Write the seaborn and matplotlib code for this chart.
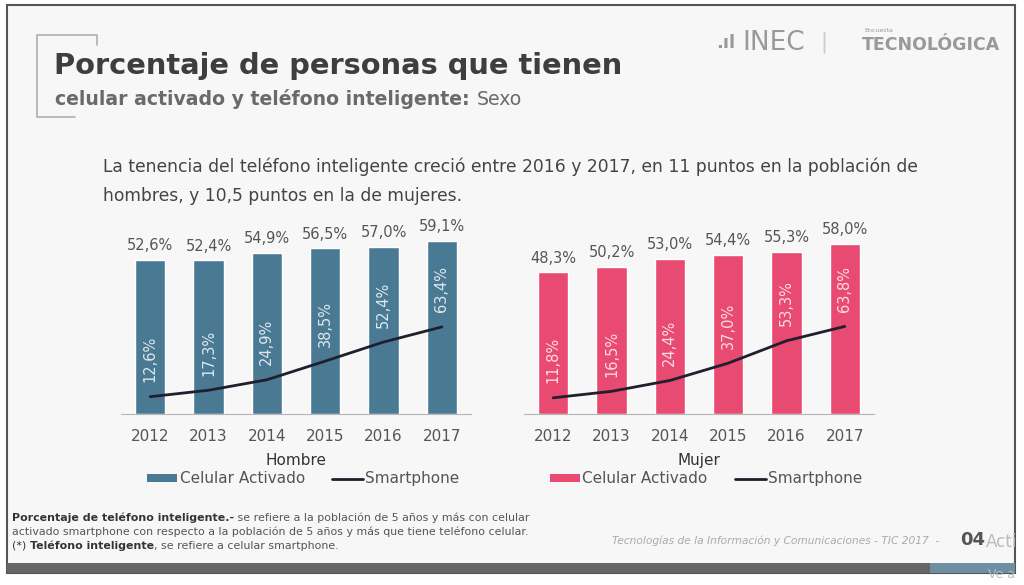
import numpy as np
import matplotlib
matplotlib.use("Agg")
import matplotlib.pyplot as plt
from matplotlib.patches import Rectangle, Patch
from matplotlib.lines import Line2D
import seaborn as sns

# Data
years = ["2012", "2013", "2014", "2015", "2016", "2017"]
hombre_celular = [52.6, 52.4, 54.9, 56.5, 57.0, 59.1]
hombre_smart = [12.6, 17.3, 24.9, 38.5, 52.4, 63.4]
mujer_celular = [48.3, 50.2, 53.0, 54.4, 55.3, 58.0]
mujer_smart = [11.8, 16.5, 24.4, 37.0, 53.3, 63.8]

BLUE = "#4a7a93"
PINK = "#e84a72"
LINE = "#1f1f2e"

sns.set_style("white")
plt.rcParams['font.family'] = ['DejaVu Sans']

fig = plt.figure(figsize=(10.24, 5.85), dpi=100)
W, H = 1024, 585
renderer = fig.canvas.get_renderer()


def fx(px):
    return px / W


def fy(py):
    return 1 - py / H


def seq_text(x_px, y_px, parts, size, stretch="normal"):
    # draw text pieces one after another on the same baseline
    for txt, weight, color, style in parts:
        t = fig.text(fx(x_px), fy(y_px), txt, fontsize=size, fontweight=weight,
                     color=color, style=style, va="center", fontstretch=stretch)
        bb = t.get_window_extent(renderer)
        x_px = bb.x1


# slide frame and background
fig.patches.append(Rectangle((fx(7), fy(573)), fx(1015 - 7), (573 - 5) / H,
                             transform=fig.transFigure, facecolor="#f7f7f7",
                             edgecolor="#555555", lw=1.5, zorder=-2))
fig.patches.append(Rectangle((fx(7), fy(573)), fx(1015 - 7), 10 / H,
                             transform=fig.transFigure, facecolor="#666666",
                             edgecolor="none", zorder=-1))
fig.patches.append(Rectangle((fx(930), fy(573)), fx(85), 10 / H,
                             transform=fig.transFigure, facecolor="#6d8fa3",
                             edgecolor="none", zorder=-1))

# bracket near title
fig.lines.append(Line2D([fx(97), fx(97), fx(37), fx(37), fx(75)],
                        [fy(45), fy(35), fy(35), fy(117), fy(117)],
                        transform=fig.transFigure, color="#b0b0b0", lw=1.2))

fig.text(fx(54), fy(66), "Porcentaje de personas que tienen", fontsize=20.8,
         fontweight="bold", color="#3e3e3e", va="center")
seq_text(55, 99, [("celular activado y teléfono inteligente: ", "bold", "#6a6a6a", "normal"),
                  ("Sexo", "normal", "#6a6a6a", "normal")], 13.6)

# logo text
fig.text(fx(716), fy(43), ".ıl", fontsize=13, color="#999999", va="center", fontweight="bold")
fig.text(fx(742), fy(43), "INEC", fontsize=19, color="#999999", va="center")
fig.text(fx(820), fy(42), "|", fontsize=15, color="#cccccc", va="center")
fig.text(fx(864), fy(30), "Encuesta", fontsize=4.5, color="#999999", va="center")
fig.text(fx(862), fy(45), "TECNOLÓGICA", fontsize=12.5, color="#999999",
         va="center", fontweight="bold")

fig.text(fx(103), fy(167),
         "La tenencia del teléfono inteligente creció entre 2016 y 2017, en 11 puntos en la población de",
         fontsize=12.3, color="#444444", va="center")
fig.text(fx(103), fy(196), "hombres, y 10,5 puntos en la de mujeres.",
         fontsize=12.3, color="#444444", va="center")


def panel(left_px, celular, smart, color, inner_color, title):
    ax = fig.add_axes([fx(left_px), fy(414), fx(350), 184 / H])
    ax.set_facecolor("none")
    sns.barplot(x=years, y=celular, color=color, width=0.52, saturation=1, ax=ax)
    ax.set_xlim(-0.5, len(years) - 0.5)
    ax.set_ylim(0, 62.8)
    ax.bar_label(ax.containers[0], labels=[f"{v:.1f}%".replace(".", ",") for v in celular],
                 padding=5, fontsize=10.5, color="#555555")
    for s in ["top", "right", "left"]:
        ax.spines[s].set_visible(False)
    ax.spines["bottom"].set_color("#b5b5b5")
    ax.set_yticks([])
    ax.set_xticks(np.arange(len(years) + 1) - 0.5, minor=True)
    ax.tick_params(axis="x", which="major", length=0, pad=11, labelsize=11,
                   labelcolor="#555555")
    ax.tick_params(axis="x", which="minor", length=3, color="#b5b5b5", direction="out")
    ax.set_xlabel(title, fontsize=11, color="#333333", labelpad=6)
    ax.set_ylabel("")

    ax2 = ax.twinx()
    xs = np.arange(len(years))
    sns.lineplot(x=xs, y=smart, color=LINE, lw=2, ax=ax2)
    ax2.set_ylim(0, 134)
    ax2.set_yticks([])
    ax2.set_ylabel("")
    for s in ax2.spines.values():
        s.set_visible(False)
    for x, v in zip(xs, smart):
        ax2.annotate(f"{v:.1f}%".replace(".", ","), (x, v), xytext=(0, 27),
                     textcoords="offset points", rotation=90, ha="center",
                     va="center", fontsize=10.5, color=inner_color)

    handles = [Patch(facecolor=color, edgecolor="none"),
               Line2D([0], [0], color=LINE, lw=2)]
    ax.legend(handles, ["Celular Activado", "Smartphone"], ncol=2, loc="center",
              bbox_to_anchor=(0.52, -0.353), frameon=False, fontsize=11,
              handlelength=2.0, handleheight=0.5, handletextpad=0.15,
              columnspacing=1.8, labelcolor="#555555")
    return ax


panel(121, hombre_celular, hombre_smart, BLUE, "#dde8ee", "Hombre")
panel(524, mujer_celular, mujer_smart, PINK, "#fcdbe3", "Mujer")

# footnotes
seq_text(12, 518, [("Porcentaje de teléfono inteligente.-", "bold", "#333333", "normal"),
                   (" se refiere a la población de 5 años y más con celular", "normal", "#555555", "normal")], 7.9)
seq_text(12, 532, [("activado smartphone con respecto a la población de 5 años y más que tiene teléfono celular.",
                    "normal", "#555555", "normal")], 7.9)
seq_text(12, 546, [("(*) ", "normal", "#333333", "normal"),
                   ("Teléfono inteligente", "bold", "#333333", "normal"),
                   (", se refiere a celular smartphone.", "normal", "#555555", "normal")], 7.9)

fig.text(fx(612), fy(541), "Tecnologías de la Información y Comunicaciones - TIC 2017  -",
         fontsize=7.7, style="italic", color="#aaaaaa", va="center")
fig.text(fx(960), fy(540), "04", fontsize=13, fontweight="bold", color="#555555", va="center")
fig.text(fx(986), fy(542), "Acti", fontsize=12, color="#bbbbbb", va="center")
fig.text(fx(988), fy(574), "Ve a", fontsize=9, color="#bbbbbb", va="center")

fig.savefig("out.png", dpi=100)
